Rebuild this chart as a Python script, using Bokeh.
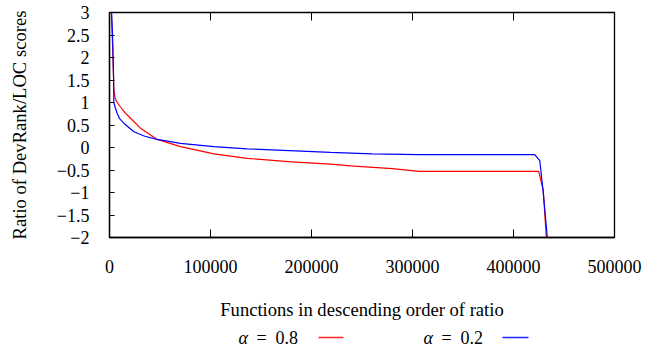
import math
from bokeh.plotting import figure
from bokeh.models import LinearAxis, FixedTicker, Range1d
from bokeh.layouts import column
from bokeh.core.properties import value
from bokeh.embed import file_html
from bokeh.resources import INLINE

# ---- data ----
red_x = [0, 1500, 3000, 4300, 5500, 7600, 10900, 15000, 20800, 30700, 47200, 70300,
         103300, 136300, 180000, 218800, 238600, 280000, 306700, 425000, 429500, 432500]
red_y = [5.0, 3.2, 2.3, 1.3, 1.1, 1.0, 0.9, 0.78, 0.65, 0.43, 0.18, 0.02,
         -0.14, -0.24, -0.32, -0.37, -0.41, -0.47, -0.53, -0.53, -0.96, -2.0]

blue_x = [0, 1500, 3000, 4000, 4300, 5500, 7600, 10000, 14200, 24100, 35000, 47200,
          70300, 103300, 136300, 218800, 260000, 306700, 421000, 426000, 429000, 433500]
blue_y = [5.0, 3.3, 2.5, 1.6, 1.0, 0.9, 0.76, 0.64, 0.54, 0.35, 0.25, 0.18,
          0.09, 0.02, -0.03, -0.11, -0.14, -0.16, -0.16, -0.29, -0.9, -2.0]

alpha_values = ["0.8", "0.2"]
series_colors = ["#ff0000", "#0000ff"]
x_ticks = [0, 100000, 200000, 300000, 400000, 500000]
x_tick_labels = ["0", "100000", "200000", "300000", "400000", "500000"]
y_ticks = [-2, -1.5, -1, -0.5, 0, 0.5, 1, 1.5, 2, 2.5, 3]
y_tick_labels = ["\u22122", "\u22121.5", "\u22121", "\u22120.5", "0", "0.5", "1", "1.5", "2", "2.5", "3"]
x_min, x_max = 0, 500000
y_min, y_max = -2, 3

FONT = "Liberation Serif"
FS = "18px"
FS_LABEL = "18.6px"

W = 655
FRAME_L, FRAME_R = 109, 614
p = figure(width=W, height=322, output_backend="svg", toolbar_location=None,
           x_range=Range1d(x_min, x_max), y_range=Range1d(y_min, y_max),
           x_axis_location=None, y_axis_location=None,
           min_border_left=FRAME_L, min_border_right=W - FRAME_R, min_border_top=12,
           min_border_bottom=322 - 238)
p.grid.visible = False
p.outline_line_color = "black"
p.outline_line_width = 1.3
p.background_fill_color = "white"
p.border_fill_color = "white"

xa = LinearAxis(ticker=FixedTicker(ticks=x_ticks),
                major_label_overrides={t: l for t, l in zip(x_ticks, x_tick_labels)},
                axis_label="Functions in descending order of ratio")
ya = LinearAxis(ticker=FixedTicker(ticks=y_ticks),
                major_label_overrides={t: l for t, l in zip(y_ticks, y_tick_labels)},
                axis_label="Ratio of DevRank/LOC scores")
for ax in (xa, ya):
    ax.axis_line_color = "black"
    ax.axis_line_width = 1.3
    ax.major_tick_out = 0
    ax.minor_tick_line_color = None
    ax.major_tick_line_color = "black"
    ax.major_tick_line_width = 1
    ax.major_label_text_font = FONT
    ax.major_label_text_font_size = FS
    ax.major_label_text_color = "black"
    ax.axis_label_text_font = FONT
    ax.axis_label_text_font_size = FS_LABEL
    ax.axis_label_text_font_style = "normal"
    ax.axis_label_text_color = "black"
xa.major_tick_in = 8
ya.major_tick_in = 5
xa.major_label_standoff = 22
xa.axis_label_standoff = 23
ya.major_label_standoff = 20
ya.axis_label_standoff = 24
p.add_layout(xa, "below")
p.add_layout(ya, "left")

# mirrored x ticks on the top border (half of each dash is clipped by the frame)
p.scatter(x=x_ticks, y=[y_max] * len(x_ticks), marker="dash", angle=math.pi / 2,
          size=16, line_color="black", line_width=1)

p.line(red_x, red_y, line_color=series_colors[0], line_width=1.2)
p.line(blue_x, blue_y, line_color=series_colors[1], line_width=1.2)

# ---- legend row (label, then line sample) in a strip whose frame aligns with p ----
LH = 28
leg = figure(width=W, height=LH, output_backend="svg", toolbar_location=None,
             x_range=p.x_range, y_range=Range1d(0, LH),
             x_axis_location=None, y_axis_location=None,
             min_border_left=FRAME_L, min_border_right=W - FRAME_R,
             min_border_top=0, min_border_bottom=0)
leg.grid.visible = False
leg.outline_line_color = None
leg.background_fill_color = "white"
leg.border_fill_color = "white"


def px(v):
    """window pixel -> x data position (layout helper for the legend strip)"""
    return (v - FRAME_L) * (x_max - x_min) / (FRAME_R - FRAME_L) + x_min


ly = LH - 15
alpha_pos = [px(238), px(423)]
eq_pos = [px(256), px(441)]
num_pos = [px(275), px(460)]
line_pos = [(px(318), px(343)), (px(502), px(528))]
leg.text(x=alpha_pos, y=[ly] * 2, text=["\u03b1"] * 2, text_font=value(FONT),
         text_font_style="italic", text_font_size=FS, text_baseline="middle",
         text_color="black")
leg.text(x=eq_pos, y=[ly] * 2, text=["="] * 2, text_font=value(FONT),
         text_font_size=FS, text_baseline="middle", text_color="black")
leg.text(x=num_pos, y=[ly] * 2, text=alpha_values, text_font=value(FONT),
         text_font_size=FS, text_baseline="middle", text_color="black")
for (a, b), c in zip(line_pos, series_colors):
    leg.quad(left=[a], right=[b], bottom=[ly - 0.7], top=[ly + 0.7],
             fill_color=c, line_color=None, fill_alpha=0.85)

open("out.html", "w").write(file_html(column(p, leg), INLINE))
